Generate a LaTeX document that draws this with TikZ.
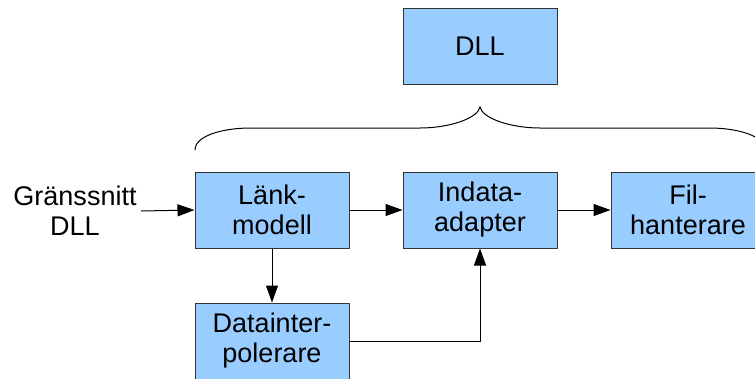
\documentclass[tikz,border=0pt]{standalone}
\usepackage{fontspec}
\setmainfont{Liberation Sans}
\usetikzlibrary{arrows.meta}
\definecolor{boxfill}{HTML}{99CCFF}
\definecolor{boxline}{HTML}{333333}
\tikzset{
  blk/.style={draw=boxline, fill=boxfill, line width=1bp, minimum width=154bp, minimum height=76bp,
    inner sep=0pt, align=center, font=\fontsize{27bp}{30bp}\selectfont},
  lbl/.style={inner sep=0pt, align=center, font=\fontsize{27bp}{30bp}\selectfont},
  conn/.style={line width=1bp, -{Triangle[length=17bp,width=12bp]}},
  brace/.style={line width=1bp}
}
\begin{document}
\begin{tikzpicture}[x=1bp,y=-1bp]
\useasboundingbox (0,0) rectangle (755,378);
\clip (0,0) rectangle (755,378);
\node[blk] (dll) at (480,46) {DLL};
\node[blk] (lank) at (272,210) {Länk-\\modell};
\node[blk] (indata) at (480,210) {Indata-\\adapter};
\node[blk] (fil) at (688,210) {Fil-\\hanterare};
\node[blk] (interp) at (272,341) {Datainter-\\polerare};
\node[lbl] (gr) at (75,211) {Gränssnitt\\DLL};
\coordinate (grend) at (141,211);
\draw[conn] (grend) -- (lank.west);
\draw[conn] (lank.east) -- (indata.west);
\draw[conn] (indata.east) -- (fil.west);
\draw[conn] (lank.south) -- (interp.north);
\draw[conn] (interp.east) -| (indata.south);
% brace
\draw[brace] (195,150) .. controls (195,135) and (225,128) .. (250,128)
  -- (420,128) .. controls (450,128) and (478,118) .. (480,107)
  .. controls (482,118) and (510,128) .. (540,128)
  -- (710,128) .. controls (735,128) and (765,135) .. (765,150);
\end{tikzpicture}
\end{document}
